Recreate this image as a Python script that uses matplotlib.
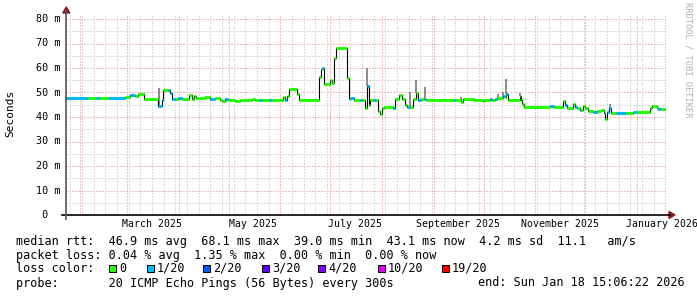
import bisect
import datetime as dt
import matplotlib
matplotlib.use('Agg')
import matplotlib.pyplot as plt
from matplotlib.collections import LineCollection
from matplotlib.lines import Line2D
from matplotlib.patches import Rectangle, Polygon

plt.rcParams['font.family'] = 'DejaVu Sans Mono'

start = dt.datetime(2025, 1, 23, 15, 6, 22)
end = dt.datetime(2026, 1, 18, 15, 6, 22)

# median rtt as steps: day since start, value in ms, loss colour index
day = [0, 13.0, 17.8, 20.2, 25.0, 35.2, 38.2, 41.2, 43.0, 46.6,
       55.0, 57.4, 58.3, 61.0, 62.2, 63.4, 65.2, 67.0, 69.4, 73.6,
       75.4, 76.6, 77.8, 83.2, 86.2, 89.2, 92.2, 93.4, 95.2, 97.0,
       101.2, 104.2, 111.4, 113.2, 115.6, 117.4, 121.6, 123.4, 130.0, 131.2,
       132.4, 133.6, 138.4, 139.6, 151.6, 152.8, 153.4, 154.6, 158.2, 159.4,
       160.6, 161.8, 168.4, 169.6, 170.2, 172.6, 176.2, 177.4, 179.2, 180.4,
       181.6, 182.5, 184.0, 185.8, 187.3, 188.2, 189.4, 190.6, 196.0, 197.2,
       199.6, 201.4, 203.2, 204.4, 206.2, 208.0, 209.8, 211.0, 212.8, 214.6,
       215.8, 232.0, 233.2, 236.8, 238.0, 244.6, 250.0, 250.6, 254.2, 255.4,
       257.2, 258.4, 262.0, 263.2, 263.8, 265.0, 272.2, 272.8, 273.4, 274.6,
       290.2, 292.6, 298.0, 299.2, 300.4, 304.0, 305.2, 306.4, 308.2, 308.8,
       310.0, 311.2, 313.0, 316.0, 318.4, 320.8, 322.6, 323.2, 324.4, 325.9,
       326.8, 329.8, 335.8, 340.0, 342.4, 350.2, 351.7, 354.4, 355.0, 356.8]
rtt = [47.6, 47.6, 47.6, 47.6, 47.8, 48.3, 49.0, 48.5, 49.5, 47.3,
       44.3, 47.0, 51.0, 51.2, 49.7, 47.3, 47.3, 47.8, 47.3, 48.8,
       47.5, 48.5, 47.8, 48.0, 47.5, 47.7, 47.0, 46.5, 47.3, 46.8,
       46.5, 46.9, 47.3, 46.9, 46.9, 46.9, 46.9, 46.9, 48.0, 46.9,
       48.5, 51.3, 49.5, 46.9, 56.5, 59.5, 60.0, 53.5, 55.0, 54.0,
       64.0, 68.1, 56.0, 47.5, 47.6, 46.9, 46.9, 46.9, 43.5, 52.5,
       45.0, 46.9, 46.9, 46.9, 42.5, 41.2, 43.5, 44.2, 43.7, 47.3,
       49.0, 47.2, 45.0, 44.2, 44.2, 47.5, 49.7, 47.0, 47.4, 47.4,
       46.9, 46.9, 46.9, 46.0, 47.2, 46.9, 46.5, 46.9, 47.2, 46.9,
       47.2, 47.6, 48.5, 48.0, 49.5, 46.9, 48.5, 46.9, 45.5, 44.2,
       44.5, 44.2, 46.5, 44.8, 43.8, 45.3, 44.0, 43.6, 43.0, 42.8,
       44.5, 43.6, 42.6, 42.0, 42.3, 42.9, 41.8, 39.0, 42.0, 43.5,
       41.7, 41.7, 41.7, 42.2, 42.2, 43.5, 44.5, 43.5, 43.2, 43.1]
loss = [1, 0, 1, 0, 1, 0, 1, 0, 0, 0,
        1, 1, 0, 1, 1, 1, 0, 1, 0, 0,
        0, 0, 0, 0, 1, 0, 0, 0, 1, 0,
        0, 0, 0, 0, 1, 0, 1, 0, 0, 1,
        0, 0, 0, 0, 0, 0, 1, 0, 0, 0,
        0, 0, 0, 0, 1, 0, 1, 0, 0, 1,
        0, 0, 1, 0, 0, 0, 0, 0, 1, 0,
        0, 0, 0, 1, 0, 0, 0, 1, 0, 1,
        0, 1, 0, 0, 0, 0, 0, 0, 1, 0,
        1, 0, 1, 0, 1, 0, 0, 0, 0, 0,
        1, 0, 0, 1, 0, 0, 1, 0, 1, 0,
        0, 0, 0, 1, 0, 0, 0, 0, 1, 1,
        0, 1, 0, 1, 0, 0, 0, 0, 1, 0]
data_end = 359.0

# smoke spikes (day, top of smoke in ms)
smoke_day = [55.6, 180.4, 206.2, 210.1, 215.2, 236.8, 258.8, 261.8, 263.8, 272.2, 298.0, 326.0]
smoke_top = [51.7, 59.9, 50.3, 55.1, 52.1, 48.3, 49.4, 50.3, 55.4, 49.7, 46.6, 45.3]

loss_colors = ['#26ff00', '#00b8ff', '#0059ff', '#5e00ff', '#7e00ff', '#dd00ff', '#ff0000']
loss_labels = ['0', '1/20', '2/20', '3/20', '4/20', '10/20', '19/20']

W, H = 697, 297


def fx(x):
    return x / W


def fy(y):
    return 1 - y / H


def days(d):
    return (d - start).total_seconds() / 86400


span = days(end)
ymax = 200 / 2.45

fig = plt.figure(figsize=(W / 100, H / 100), dpi=100)
fig.patch.set_facecolor('white')
ax = fig.add_axes([fx(66.3), fy(215), 600 / W, 200 / H])
ax.set_xlim(0, span)
ax.set_ylim(0, ymax)
for s in ax.spines.values():
    s.set_visible(False)

dots = (0, (1.4, 1.4))
minor_c = '#dadada'
major_c = '#f3bcbc'
# horizontal grid
for v in range(5, 81, 10):
    ax.axhline(v, color=minor_c, lw=0.72, ls=dots, zorder=1, antialiased=False)
for v in range(10, 81, 10):
    ax.axhline(v, color=major_c, lw=0.72, ls=dots, zorder=1, antialiased=False)

# weekly grid (sundays)
d = dt.datetime(2025, 1, 26)
while d < end:
    ax.axvline(days(d), color=minor_c, lw=0.72, ls=dots, zorder=1, antialiased=False)
    d += dt.timedelta(days=7)

# month grid
month_starts = []
for k in range(12):
    m = 2 + k
    month_starts.append(dt.datetime(2025 + (m - 1) // 12, (m - 1) % 12 + 1, 1))
for m in month_starts:
    ax.axvline(days(m), color=major_c, lw=0.72, ls=dots, zorder=1, antialiased=False)

# x labels, centred mid-month, every second month
lab_months = [m for m in month_starts if m.month % 2 == 1]
ax.set_xticks([days(m) + 14.8 for m in lab_months],
              [m.strftime('%B %Y') for m in lab_months])
ax.tick_params(axis='x', length=0, pad=3, labelsize=7.1)
ax.set_yticks([])

# y labels
for v in range(0, 81, 10):
    lab = '%2d m' % v if v else ' 0  '
    ax.text(-29.8 / 600, v, lab, transform=ax.get_yaxis_transform(),
            ha='left', va='center', fontsize=7.3)

# smoke
idx = [bisect.bisect_right(day, sd) - 1 for sd in smoke_day]
ax.vlines(smoke_day, [rtt[i] for i in idx], smoke_top, color='#8a8a8a', lw=1.4, zorder=2)

# median line: black steps, coloured flats
ax.step(day + [data_end], rtt + [rtt[-1]], where='post', color='black', lw=0.8, zorder=3)
ends = day[1:] + [data_end]
segs = [[(day[i], rtt[i]), (ends[i], rtt[i])] for i in range(len(day))]
ax.add_collection(LineCollection(segs, colors=[loss_colors[l] for l in loss],
                                 linewidths=2.2, capstyle='butt', zorder=4))

# axis lines and arrows
fig.add_artist(Line2D([fx(62), fx(670)], [fy(215), fy(215)], color='black', lw=1.2))
fig.add_artist(Line2D([fx(66.3), fx(66.3)], [fy(219), fy(11)], color='#555555', lw=1.2))
fig.add_artist(Polygon([(fx(669), fy(211.5)), (fx(669), fy(218.5)), (fx(675), fy(215))],
                       closed=True, color='#8b1a1a'))
fig.add_artist(Polygon([(fx(62.8), fy(13)), (fx(69.8), fy(13)), (fx(66.3), fy(7))],
                       closed=True, color='#8b1a1a'))

fig.text(fx(10), fy(113), 'Seconds', rotation=90, ha='center', va='center', fontsize=8)
fig.text(fx(688), fy(60), 'RRDTOOL / TOBI OETIKER', rotation=270, ha='center', va='center',
         fontsize=6.2, color='#b0b0b0')

# legend text
fs = 8.5
fig.text(fx(16), fy(241), 'median rtt:  46.9 ms avg  68.1 ms max  39.0 ms min  43.1 ms now  4.2 ms sd  11.1   am/s',
         ha='left', va='center', fontsize=fs)
fig.text(fx(16), fy(255), 'packet loss: 0.04 % avg  1.35 % max  0.00 % min  0.00 % now',
         ha='left', va='center', fontsize=fs)
fig.text(fx(16), fy(268), 'loss color:', ha='left', va='center', fontsize=fs)
sq_x = [109, 147, 203, 262, 318, 378, 442]
for x, c, l in zip(sq_x, loss_colors, loss_labels):
    fig.add_artist(Rectangle((fx(x), fy(271.5)), 7 / W, 7 / H, transform=fig.transFigure,
                             facecolor=c, edgecolor='black', lw=0.72))
    fig.text(fx(x + 10), fy(268), l, ha='left', va='center', fontsize=fs)
fig.text(fx(16), fy(283), 'probe:       20 ICMP Echo Pings (56 Bytes) every 300s',
         ha='left', va='center', fontsize=fs)
fig.text(fx(478), fy(283), 'end: Sun Jan 18 15:06:22 2026', ha='left', va='center', fontsize=fs)

fig.savefig('out.png', dpi=100)
